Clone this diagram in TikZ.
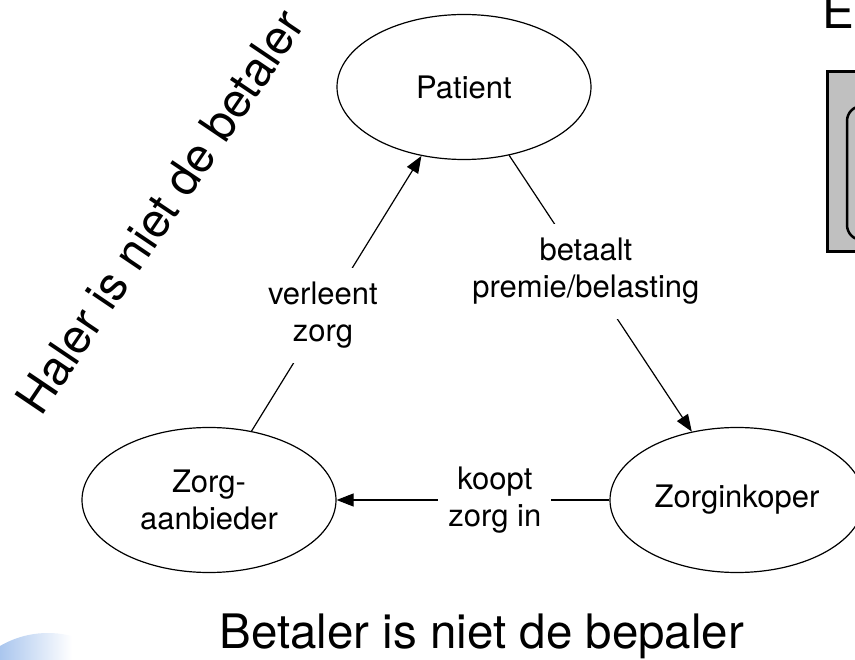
\documentclass[tikz,border=0pt]{standalone}
\usepackage{fontspec}
\setmainfont{TeX Gyre Heros}
\usetikzlibrary{arrows.meta,shapes.geometric}
\definecolor{boxgray}{RGB}{192,192,192}
\definecolor{blobblue}{RGB}{170,198,238}
\begin{document}
\begin{tikzpicture}[x=1pt,y=-1pt,
  party/.style={ellipse,draw,line width=1.2pt,minimum width=254pt,minimum height=145pt,
    inner sep=0pt,align=center,font=\fontsize{31}{37}\selectfont},
  flow/.style={line width=1.2pt,-{Triangle[length=17pt,width=13pt]}},
  flowlabel/.style={fill=white,align=center,inner xsep=10pt,inner ysep=14pt,
    font=\fontsize{31}{37}\selectfont,pos=0.42},
  caption/.style={font=\fontsize{47.5}{57}\selectfont,inner sep=0pt,anchor=base west}]
\useasboundingbox (0,0) rectangle (855,660);
\clip (0,0) rectangle (855,660);

% soft blue glow in the lower left corner
\begin{scope}
  \clip (48,728) circle (95);
  \shade[left color=blobblue, right color=white] (0,620) rectangle (72,660);
\end{scope}

% partly visible panel on the right
\node[caption] (ecut) at (822,29) {E};
\draw[line width=3pt, fill=boxgray] (827.5,71.5) rectangle (880,252);
\draw[line width=2.5pt, rounded corners=15pt] (847,106) rectangle (890,240);

% the three parties
\node[party] (patient)   at (464,87)  {Patient};
\node[party] (aanbieder) at (209,500) {Zorg-\\aanbieder};
\node[party] (inkoper)   at (737,500) {Zorginkoper};

% flows between the parties
\draw[flow] (patient)   -- node[flowlabel] {betaalt\\premie/belasting} (inkoper);
\draw[flow] (inkoper)   -- node[flowlabel] {koopt\\zorg in} (aanbieder);
\draw[flow] (aanbieder) -- node[flowlabel] {verleent\\zorg} (patient);

% captions
\node[caption,rotate=56] (haler) at (41,418) {Haler is niet de betaler};
\node[caption] (bepaler) at (219.5,648) {Betaler is niet de bepaler};
\end{tikzpicture}
\end{document}
